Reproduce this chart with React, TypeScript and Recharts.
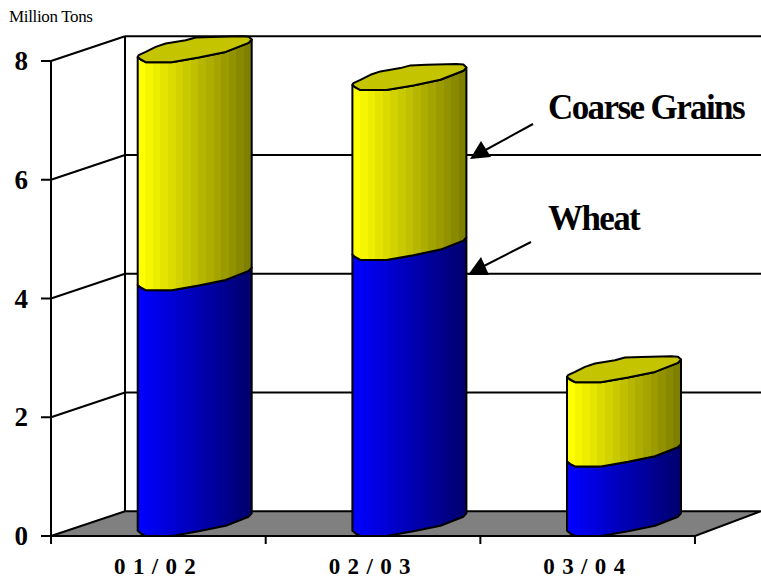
import React from "react";
import { BarChart, Bar, XAxis, YAxis, CartesianGrid } from "recharts";

const categories = ["0 1 / 0 2", "0 2 / 0 3", "0 3 / 0 4"];
const wheat = [4.14, 4.65, 1.17];
const coarseGrains = [3.84, 2.86, 1.42];
const yTicks = [0, 2, 4, 6, 8];
const data = categories.map((name, i) => ({ name, wheat: wheat[i], coarse: coarseGrains[i] }));

const SERIF = "'Liberation Serif', 'Times New Roman', serif";
const DEPTH_X = 74;
const DEPTH_Y = 24.7;
const SHIFT = 36.7;
const RIGHT = 761;
const STROKE = 2;

// Outline of a cylinder's end, as offsets from (bar centre, front-most y of the bar's value).
const FRONT_EDGE: [number, number][] = [
  [-57, -5.3], [-54, -2.7], [-49, 0], [-23, 0], [4, -4.7], [31, -10.3], [54, -19.3], [57, -22.7],
];
const BACK_EDGE: [number, number][] = [
  [54, -25.5], [47, -26], [17, -25.3], [1, -24.7], [-9, -22], [-29, -18.7], [-39, -15.3], [-49, -10.3], [-56, -7],
];

const bands = (hi: number, lo: number, n: number, color: (v: number) => string) => {
  const out: React.ReactElement[] = [];
  for (let i = 0; i < n; i++) {
    const v = Math.round(hi - ((hi - lo) * i) / (n - 1));
    out.push(<stop key={`a${i}`} offset={i / n} stopColor={color(v)} />);
    out.push(<stop key={`b${i}`} offset={(i + 1) / n} stopColor={color(v)} />);
  }
  return out;
};

const place = (pts: [number, number][], cx: number, y: number) =>
  pts.map(([dx, dy]) => `${(cx + dx).toFixed(1)},${(y + dy).toFixed(1)}`);

function Cylinder(props: any) {
  const { x, y, width, height, fillId, index, cap } = props;
  const cx = x + width / 2 + SHIFT;
  const bot = y + height;
  const id = `${fillId}${index}`;
  const isYellow = fillId === "y";
  const body = [...place(FRONT_EDGE, cx, bot), ...place([...FRONT_EDGE].reverse(), cx, y)];
  return (
    <g>
      <defs>
        <linearGradient id={id} x1="0" x2="1" y1="0" y2="0">
          {isYellow
            ? bands(255, 128, 15, (v) => `rgb(${v},${v},0)`)
            : bands(255, 110, 30, (v) => `rgb(0,0,${v})`)}
        </linearGradient>
      </defs>
      <polygon
        points={body.join(" ")}
        fill={`url(#${id})`}
        stroke="#000"
        strokeWidth={STROKE}
        strokeLinejoin="round"
      />
      {cap && (
        <polygon
          points={[...place(FRONT_EDGE, cx, y), ...place(BACK_EDGE, cx, y)].join(" ")}
          fill="#c4c400"
          stroke="#000"
          strokeWidth={STROKE}
          strokeLinejoin="round"
        />
      )}
    </g>
  );
}

function GridRow(props: any) {
  const { x1, y1, x2, index } = props;
  const back = y1 - DEPTH_Y;
  const isFloor = Math.abs(y1 - 536) < 1;
  const k = props.key ?? index;
  const left = x1;
  if (isFloor) {
    return (
      <g key={k}>
        <polygon
          points={`${left},${y1} ${left + DEPTH_X},${back} ${RIGHT},${back} ${x2},${y1}`}
          fill="#808080"
          stroke="#000"
          strokeWidth={STROKE}
        />
        <line x1={left + DEPTH_X} x2={left + DEPTH_X} y1={back} y2={36} stroke="#000" strokeWidth={STROKE} />
      </g>
    );
  }
  return (
    <g key={k}>
      <line x1={left} y1={y1} x2={left + DEPTH_X} y2={back} stroke="#000" strokeWidth={STROKE} />
      <line x1={left + DEPTH_X} y1={back} x2={RIGHT} y2={back} stroke="#000" strokeWidth={STROKE} />
    </g>
  );
}

function YTick(props: any) {
  const { y, payload } = props;
  return (
    <text x={28} y={y + 9} textAnchor="end" fontFamily={SERIF} fontWeight="bold" fontSize={27} fill="#000">
      {payload.value}
    </text>
  );
}

function XTick(props: any) {
  const { x, payload, index } = props;
  const half = 107.3;
  return (
    <g>
      <line x1={x - half} x2={x - half} y1={536} y2={544} stroke="#000" strokeWidth={STROKE} />
      {index === categories.length - 1 && (
        <line x1={x + half} x2={x + half} y1={536} y2={544} stroke="#000" strokeWidth={STROKE} />
      )}
      <text x={x - 3} y={574} textAnchor="middle" fontFamily={SERIF} fontWeight="bold" fontSize={23} letterSpacing={0.8} fill="#000">
        {payload.value}
      </text>
    </g>
  );
}

export default function App() {
  return (
    <div style={{ position: "absolute", left: 0, top: 0, width: 761, height: 578, background: "#fff", overflow: "hidden" }}>
      <BarChart
        width={761}
        height={578}
        data={data}
        margin={{ top: 61, right: 66, bottom: 0, left: 0 }}
        barSize={114}
      >
        <CartesianGrid vertical={false} horizontal={GridRow as any} />
        <XAxis
          dataKey="name"
          height={42}
          tickLine={false}
          axisLine={{ stroke: "#000", strokeWidth: STROKE }}
          tick={XTick as any}
          interval={0}
        />
        <YAxis
          width={51}
          domain={[0, 8]}
          ticks={yTicks}
          tickSize={10}
          tickLine={{ stroke: "#000", strokeWidth: STROKE }}
          axisLine={{ stroke: "#000", strokeWidth: STROKE }}
          tick={YTick as any}
        />
        <Bar dataKey="wheat" stackId="a" isAnimationActive={false} shape={(p: any) => <Cylinder {...p} fillId="b" />} />
        <Bar dataKey="coarse" stackId="a" isAnimationActive={false} shape={(p: any) => <Cylinder {...p} fillId="y" cap />} />
      </BarChart>
      <svg width={761} height={578} style={{ position: "absolute", left: 0, top: 0, pointerEvents: "none" }}>
        <text x={9} y={22} fontFamily={SERIF} fontSize={17} letterSpacing={-0.35} fill="#000">Million Tons</text>
        <text x={548} y={119} fontFamily={SERIF} fontWeight="bold" fontSize={35} letterSpacing={-1.6} fill="#000">Coarse Grains</text>
        <text x={548} y={230} fontFamily={SERIF} fontWeight="bold" fontSize={35} letterSpacing={-1.6} fill="#000">Wheat</text>
        <line x1={533} y1={124} x2={480} y2={153} stroke="#000" strokeWidth={2} />
        <polygon points="470,159 481,141 491,157" fill="#000" />
        <line x1={531} y1={242} x2={478} y2={269} stroke="#000" strokeWidth={2} />
        <polygon points="468,275 481,257 489,275" fill="#000" />
      </svg>
    </div>
  );
}
